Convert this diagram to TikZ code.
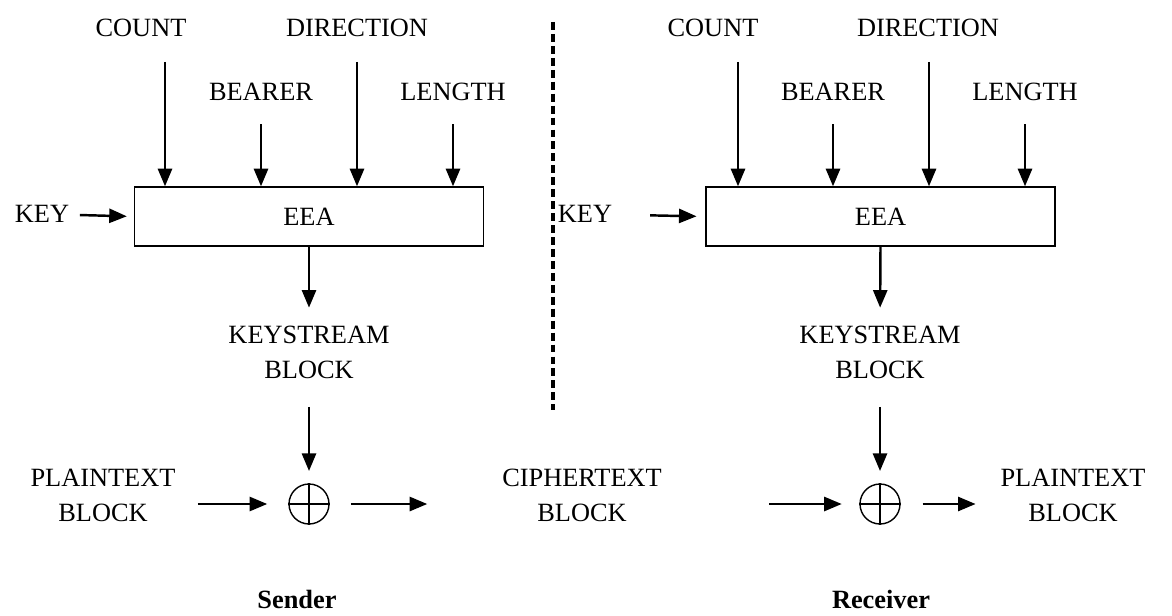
\documentclass[tikz,border=0pt]{standalone}
\usepackage{fontspec}
\setmainfont{Liberation Serif}
\usetikzlibrary{arrows.meta,positioning}

\tikzset{
  lbl/.style={font=\fontsize{15}{20}\selectfont, align=center, inner sep=0pt},
  flow/.style={-{Triangle[length=10pt,width=8pt]}, line width=1.4pt},
  eeabox/.style={draw, line width=0.8pt, minimum width=6.98cm, minimum height=1.18cm,
    font=\fontsize{15}{20}\selectfont},
  xorop/.style={draw, circle, line width=0.8pt, minimum size=0.8cm, inner sep=0pt},
  side/.style={font=\fontsize{15}{18}\selectfont\bfseries, inner sep=0pt}
}

\begin{document}
\begin{tikzpicture}[x=0.02cm, y=-0.02cm]
    \useasboundingbox (0,0) rectangle (1172,615);

    % sender
    \node[lbl] (count) at (141,28) {COUNT};
    \node[lbl] (dir) at (357,28) {DIRECTION};
    \node[lbl] (bearer) at (261,92) {BEARER};
    \node[lbl] (length) at (453,92) {LENGTH};
    \node[eeabox] (eea) at (309,216.5) {EEA};
    \node[lbl] (key) at (42,214) {KEY};
    \node[lbl] (ks) at (309,352) {KEYSTREAM\\BLOCK};
    \node[xorop] (xor) at (309,504) {};
    \node[lbl] (plain) at (103,495) {PLAINTEXT\\BLOCK};
    \node[lbl] (cipher) at (582,495) {CIPHERTEXT\\BLOCK};
    \node[side] (sender) at (297,599) {Sender};

    \coordinate (cnt) at (165,62);
    \coordinate (drc) at (357,62);
    \coordinate (brr) at (261,124);
    \coordinate (lng) at (453,124);

    \draw[flow] (cnt) -- (cnt |- eea.north);
    \draw[flow] (drc) -- (drc |- eea.north);
    \draw[flow] (brr) -- (brr |- eea.north);
    \draw[flow] (lng) -- (lng |- eea.north);
    \draw[flow, shorten <=6pt, shorten >=4pt] (key) -- (eea.west);
    \draw[flow, shorten >=10pt] (eea.south) -- (ks.north);
    \draw[flow, shorten <=16pt, shorten >=7pt] (ks.south) -- (xor.north);
    \draw[flow, shorten <=12.5pt, shorten >=12pt] (plain.east |- xor) -- (xor.west);
    \draw[flow, shorten <=12pt, shorten >=42.5pt] (xor.east) -- (cipher.west |- xor);
    \draw[line width=0.8pt] (xor.north) -- (xor.south) (xor.west) -- (xor.east);

    % dividing line
    \coordinate (top) at (553,22);
    \coordinate (bot) at (553,410);
    \draw[line width=2pt, dash pattern=on 4.5pt off 2.3pt] (top) -- (bot);

    % receiver
    \node[lbl] (count2) at (713,28) {COUNT};
    \node[lbl] (dir2) at (928,28) {DIRECTION};
    \node[lbl] (bearer2) at (833,92) {BEARER};
    \node[lbl] (length2) at (1025,92) {LENGTH};
    \node[eeabox] (eea2) at (880.5,216.5) {EEA};
    \node[lbl] (key2) at (585,214) {KEY};
    \node[lbl] (ks2) at (880,352) {KEYSTREAM\\BLOCK};
    \node[xorop] (xor2) at (880,504) {};
    \node[lbl] (plain2) at (1073,495) {PLAINTEXT\\BLOCK};
    \node[side] (receiver) at (881,599) {Receiver};

    \coordinate (cnt2) at (738,62);
    \coordinate (drc2) at (929,62);
    \coordinate (brr2) at (833,124);
    \coordinate (lng2) at (1025,124);

    \draw[flow] (cnt2) -- (cnt2 |- eea2.north);
    \draw[flow] (drc2) -- (drc2 |- eea2.north);
    \draw[flow] (brr2) -- (brr2 |- eea2.north);
    \draw[flow] (lng2) -- (lng2 |- eea2.north);
    \draw[flow, shorten <=21.5pt, shorten >=5pt] (key2) -- (eea2.west);
    \draw[flow, shorten >=10pt] (eea2.south) -- (ks2.north);
    \draw[flow, shorten <=16pt, shorten >=7pt] (ks2.south) -- (xor2.north);
    \draw[flow, shorten <=61pt, shorten >=10pt] (cipher.east |- xor2) -- (xor2.west);
    \draw[flow, shorten <=12.5pt, shorten >=14pt] (xor2.east) -- (plain2.west |- xor2);
    \draw[line width=0.8pt] (xor2.north) -- (xor2.south) (xor2.west) -- (xor2.east);
\end{tikzpicture}
\end{document}
